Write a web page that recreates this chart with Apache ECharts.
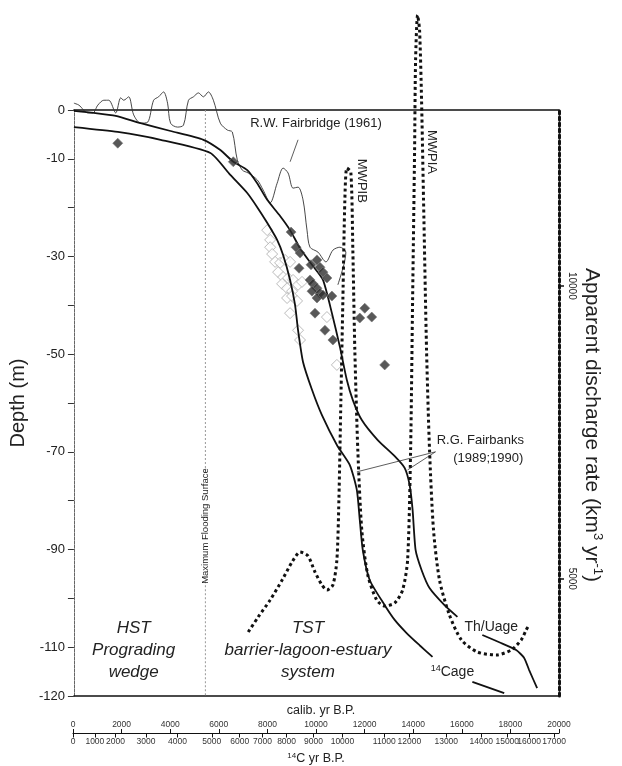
<!DOCTYPE html>
<html>
<head>
<meta charset="utf-8">
<script src="https://cdn.jsdelivr.net/npm/echarts@6/dist/echarts.min.js"></script>
<style>
html, body { margin: 0; padding: 0; background: #fff; }
#chart { width: 622px; height: 766px; }
</style>
</head>
<body>
<div id="chart"></div>
<script>
// x is calibrated years B.P., y is depth in metres (left) or discharge in km3/yr (right)
const fairbridge = [
  [0, 1.4], [205, 1.0], [575, -0.6], [780, -0.6], [986, 1.0], [1232, 2.0], [1437, 2.0],
  [1725, -0.6], [1930, 2.5], [2054, 2.0], [2259, 2.7], [2464, -1.0], [2752, -2.7],
  [3039, -2.5], [3286, 2.0], [3491, 2.7], [3696, 3.7], [3861, 1.4], [3984, -2.7],
  [4271, -3.5], [4518, -3.1], [4723, 2.0], [4928, 2.7], [5134, 3.5], [5339, 2.7],
  [5544, 3.7], [5750, 2.0], [6037, -2.7], [6325, -4.1], [6530, -4.5], [6735, -10.2],
  [6941, -12.3], [7187, -12.9], [7557, -14.3], [7803, -16.4], [8091, -19.0], [8378, -15.0],
  [8625, -11.9], [8830, -12.9], [9035, -16.0], [9241, -15.8], [9446, -18.4], [9610, -24.6],
  [9734, -28.1], [10062, -29.1], [10391, -31.1], [10678, -28.7], [10966, -28.1],
  [11212, -29.1], [11130, -31.7], [10883, -35.8]
];

const thuAge = [
  [0, -0.2], [821, -0.6], [1725, -1.2], [2752, -2.7], [3984, -4.3], [5339, -6.1],
  [6037, -8.2], [6571, -10.6], [7146, -12.3], [7557, -15.0], [7968, -18.4], [8501, -21.7],
  [8912, -24.6], [9323, -28.3], [9816, -31.7], [10268, -34.8], [10637, -41.6],
  [10966, -48.5], [11253, -55.3], [11500, -59.4], [11869, -63.5], [12526, -67.6],
  [13225, -70.9], [13635, -73.3], [13841, -76.8], [13964, -81.9], [14087, -90.1],
  [14333, -94.2], [14662, -97.9], [15278, -101.4], [15812, -103.8], [16300, null],
  [16839, -107.5], [17537, -109.0], [18235, -110.6], [18564, -112.2], [18770, -114.7],
  [19098, -118.4]
];

const c14Age = [
  [0, -3.5], [1807, -4.5], [3573, -6.1], [5627, -8.8], [6448, -13.3], [7146, -17.0],
  [7557, -19.9], [7968, -23.1], [8378, -26.6], [8625, -29.7], [8912, -34.8], [9117, -39.9],
  [9241, -45.1], [9446, -51.6], [9816, -57.3], [10226, -62.5], [10842, -68.6],
  [11376, -72.7], [11664, -77.8], [11787, -84.0], [11910, -90.1], [12198, -96.3],
  [12814, -101.4], [13225, -104.4], [13717, -107.1], [14251, -109.6], [14785, -112.0],
  [15600, null], [16428, -117.1], [17742, -119.4]
];

const filledDiamonds = [
  [1807, -6.8], [6571, -10.6], [8953, -25.0], [9159, -28.1], [9323, -29.3], [9282, -32.4],
  [9775, -31.7], [10021, -30.7], [10144, -32.2], [10268, -33.2], [10432, -34.4],
  [9734, -34.8], [9857, -35.6], [10021, -36.5], [9816, -37.1], [10144, -37.5],
  [10021, -38.5], [10268, -37.9], [10637, -38.1], [9939, -41.6], [10350, -45.1],
  [10678, -47.1], [11992, -40.6], [11787, -42.6], [12280, -42.4], [12814, -52.2]
];

const openDiamonds = [
  [7968, -24.6], [8091, -26.6], [8091, -28.1], [8173, -29.5], [8296, -31.1], [8501, -31.3],
  [8707, -30.7], [8912, -31.1], [8419, -33.2], [8625, -34.2], [8830, -34.4], [9035, -34.8],
  [8584, -35.6], [8789, -36.5], [8994, -37.1], [9241, -35.8], [9405, -35.2], [8789, -38.5],
  [8994, -38.1], [9200, -39.1], [8912, -41.6], [9241, -45.1], [9323, -47.1], [10432, -42.4],
  [10842, -52.2]
];

const discharge = [
  [7187, 4092], [7598, 4348], [8091, 4638], [8584, 4979], [8995, 5287], [9323, 5457],
  [9652, 5389], [9939, 5116], [10226, 4894], [10431, 4809], [10678, 4894], [10842, 5321],
  [10925, 6345], [11007, 8051], [11089, 9758], [11171, 11464], [11253, 12010],
  [11417, 11940], [11500, 10611], [11582, 8904], [11705, 7198], [11869, 5833],
  [12116, 5065], [12485, 4638], [12814, 4536], [13225, 4587], [13553, 4809], [13758, 5321],
  [13882, 7198], [13964, 9758], [14046, 12317], [14087, 13853], [14169, 14621],
  [14251, 14365], [14333, 13171], [14415, 11464], [14539, 8904], [14662, 7198],
  [14826, 5833], [15073, 4979], [15483, 4382], [15976, 3956], [16633, 3751], [17414, 3700],
  [18030, 3785], [18440, 3956], [18646, 4126], [18770, 4211]
];

const floodingSurface = [[5421, 0], [5421, -74], [5421, null], [5421, -96.5], [5421, -120]];

const c14Labels = [0, 1000, 2000, 3000, 4000, 5000, 6000, 7000, 8000, 9000, 10000,
  11000, 12000, 13000, 14000, 15000, 16000, 17000];
const c14AtCal = [0, 900, 1750, 3000, 4300, 5710, 6860, 7800, 8790, 9900, 11090,
  12810, 13840, 15360, 16800, 17870, 18770, 19800];
const dischargeTicks = [5000, 10000];

const fairbridgeLeader = [[8914, -10.6], [9241, -6.1]];
const fairbanksLeaderA = [[14908, -70.0], [11664, -74.1]];
const fairbanksLeaderB = [[14908, -70.0], [13758, -73.7]];

const notes = [
  { text: 'R.W. Fairbridge (1961)', at: [7269, -2.7], size: 13, align: 'left' },
  { text: 'MWPIB', at: [11869, -14.5], size: 13, rot: -90 },
  { text: 'MWPIA', at: [14744, -8.6], size: 13, rot: -90 },
  { text: 'R.G. Fairbanks', at: [16757, -67.6], size: 13 },
  { text: '(1989;1990)', at: [17085, -71.3], size: 13 },
  { text: 'Maximum Flooding Surface', at: [5421, -85.2], size: 9.5, rot: 90 },
  { text: 'HST', at: [2464, -106.1], size: 17, italic: true },
  { text: 'Prograding', at: [2464, -110.6], size: 17, italic: true },
  { text: 'wedge', at: [2464, -115.1], size: 17, italic: true },
  { text: 'TST', at: [9651, -106.1], size: 17, italic: true },
  { text: 'barrier-lagoon-estuary', at: [9651, -110.6], size: 17, italic: true },
  { text: 'system', at: [9651, -115.1], size: 17, italic: true },
  { text: 'Th/Uage', at: [17208, -105.9], size: 14 },
  { text: '{s|14}{n|Cage}', at: [15607, -115.1], size: 14 },
  { text: '{n|Apparent discharge rate (km}{s|3}{n| yr}{s|-1}{n|)}', at: [21358, -64.5], size: 21, rot: -90 }
];

const FONT = '"Liberation Sans", Arial, sans-serif';
const chart = echarts.init(document.getElementById('chart'));

function lineSeries(data, width, color, extra) {
  return Object.assign({
    type: 'line', data: data, symbol: 'none', clip: false, connectNulls: false,
    lineStyle: { width: width, color: color }, z: 3, silent: true
  }, extra || {});
}

const option = {
  animation: false,
  backgroundColor: '#fff',
  textStyle: { fontFamily: FONT },
  grid: [
    { left: 73, right: 63, top: 110, bottom: 70 },
    { left: 73, right: 63, top: 733, height: 1 }
  ],
  xAxis: [
    {
      gridIndex: 0, type: 'value', min: 0, max: 20000, position: 'bottom',
      axisLine: { onZero: false, lineStyle: { color: '#111', width: 1.5 } },
      axisTick: { show: false }, axisLabel: { show: false }, splitLine: { show: false }
    },
    {
      gridIndex: 0, type: 'value', min: 0, max: 20000, position: 'top',
      axisLine: { onZero: false, lineStyle: { color: '#111', width: 1.5 } },
      axisTick: { show: false }, axisLabel: { show: false }, splitLine: { show: false }
    },
    {
      gridIndex: 1, type: 'value', min: 0, max: 20000, interval: 2000, position: 'top',
      axisLine: { onZero: false, lineStyle: { color: '#111', width: 1.2 } },
      axisTick: { length: 4, lineStyle: { color: '#111' } },
      axisLabel: {
        fontSize: 8.5, color: '#333', margin: 4,
        formatter: function (v) { return String(v); }
      },
      splitLine: { show: false },
      name: 'calib. yr B.P.', nameLocation: 'middle', nameGap: 16,
      nameTextStyle: { fontSize: 12.5, color: '#222', padding: [0, 0, 0, 10] }
    },
    {
      gridIndex: 1, type: 'value', min: 0, max: 20000, position: 'bottom',
      axisLine: { show: false, onZero: false },
      axisTick: { length: 4, customValues: c14AtCal, lineStyle: { color: '#111' } },
      axisLabel: {
        customValues: c14AtCal, fontSize: 8.5, color: '#333', margin: 4,
        formatter: function (v) {
          const i = c14AtCal.indexOf(v);
          return i >= 0 ? String(c14Labels[i]) : '';
        }
      },
      splitLine: { show: false },
      name: '{s|14}{n|C yr B.P.}', nameLocation: 'middle', nameGap: 18,
      nameTextStyle: {
        color: '#222',
        rich: { s: { fontSize: 8, verticalAlign: 'top', lineHeight: 14 }, n: { fontSize: 12.5, lineHeight: 14 } }
      }
    }
  ],
  yAxis: [
    {
      gridIndex: 0, type: 'value', min: -120, max: 0, interval: 10, position: 'left',
      axisLine: { show: true, onZero: false, lineStyle: { color: '#666', width: 1, type: [3, 1] } },
      axisTick: { show: true, length: 6, lineStyle: { color: '#333' } },
      axisLabel: {
        fontSize: 13, color: '#222', margin: 9,
        formatter: function (v) {
          return (v === 0 || v === -120 || Math.abs(v) % 20 === 10) ? String(v) : '';
        }
      },
      splitLine: { show: false },
      name: 'Depth (m)', nameLocation: 'middle', nameGap: 38, nameRotate: 90,
      nameTextStyle: { fontSize: 20, color: '#222' }
    },
    {
      gridIndex: 0, type: 'value', min: 3000, max: 13000, position: 'right',
      axisLine: { show: true, onZero: false, lineStyle: { color: '#111', width: 3, type: [3, 3] } },
      axisTick: { show: true, customValues: dischargeTicks, length: 5, lineStyle: { color: '#111', width: 1.5 } },
      axisLabel: {
        customValues: dischargeTicks, rotate: -90, fontSize: 10, color: '#222', margin: 8,
        formatter: function (v) { return String(v); }
      },
      splitLine: { show: false }
    },
    { gridIndex: 1, type: 'value', show: false, min: 0, max: 1 }
  ],
  series: [
    {
      type: 'scatter', data: openDiamonds, symbol: 'diamond', symbolSize: 11, clip: false,
      itemStyle: { color: '#fff', borderColor: '#aaa', borderWidth: 1 }, z: 2
    },
    lineSeries(floodingSurface, 1, '#888', { lineStyle: { width: 1, color: '#999', type: [2, 2] }, z: 1 }),
    lineSeries(fairbridge, 0.9, '#333', { smooth: 0.3 }),
    lineSeries(thuAge, 1.8, '#111', { smooth: 0.2 }),
    lineSeries(c14Age, 1.8, '#111', { smooth: 0.2 }),
    {
      type: 'scatter', data: filledDiamonds, symbol: 'diamond', symbolSize: 10, clip: false,
      itemStyle: { color: '#2e2e2e', borderColor: '#777', borderWidth: 0.8 }, z: 5
    },
    lineSeries(discharge, 3, '#111', {
      yAxisIndex: 1, smooth: 0.25, z: 4,
      lineStyle: { width: 3, color: '#111', type: [3, 3], cap: 'butt' }
    }),
    lineSeries(fairbridgeLeader, 0.8, '#333'),
    lineSeries(fairbanksLeaderA, 0.8, '#333'),
    lineSeries(fairbanksLeaderB, 0.8, '#333')
  ]
};

chart.setOption(option);

const graphics = notes.map(function (n) {
  const p = chart.convertToPixel({ gridIndex: 0 }, n.at);
  return {
    type: 'text', x: p[0], y: p[1], rotation: n.rot ? n.rot * Math.PI / 180 : 0, z: 10,
    style: {
      text: n.text, fill: '#222',
      font: (n.italic ? 'italic ' : '') + n.size + 'px ' + FONT,
      align: n.align || 'center', verticalAlign: 'middle',
      rich: {
        s: { fontSize: Math.round(n.size * 0.62), verticalAlign: 'top', lineHeight: n.size + 3, fontFamily: FONT },
        n: { fontSize: n.size, lineHeight: n.size + 3, fontFamily: FONT }
      }
    }
  };
});
chart.setOption({ graphic: graphics });
</script>
</body>
</html>
